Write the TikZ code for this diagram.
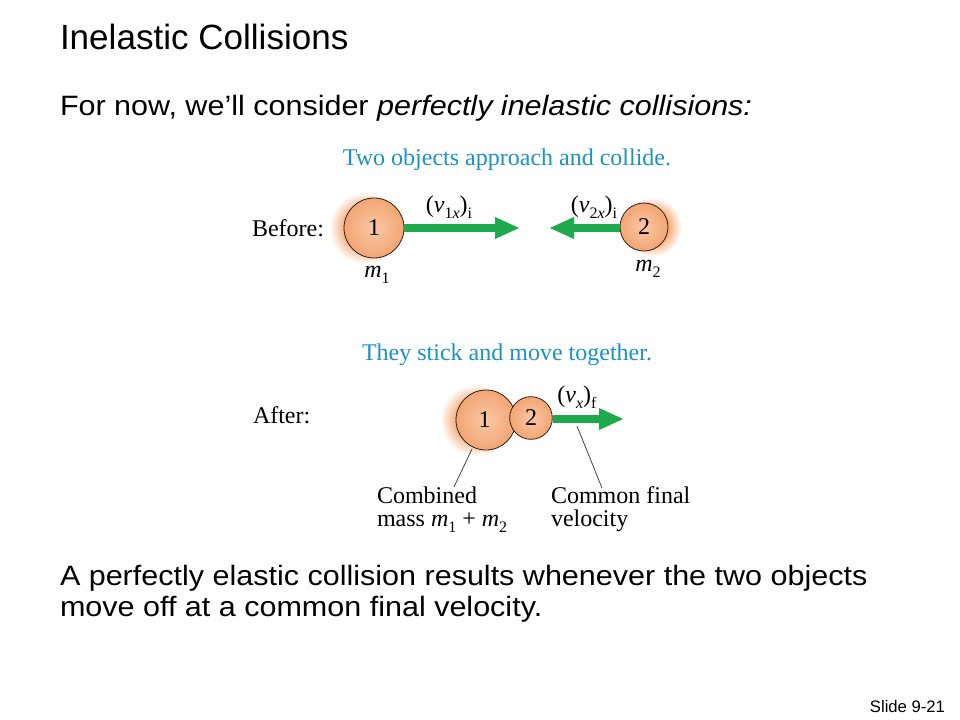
\documentclass[tikz,border=0pt]{standalone}
\usepackage{fontspec}
\setmainfont{Liberation Serif}
\newfontfamily\titlefont{Liberation Sans}
\newfontfamily\bodyfont[FakeStretch=1.09]{Liberation Sans}
\newfontfamily\diafont{Liberation Serif}
\usetikzlibrary{arrows.meta}
\definecolor{capblue}{RGB}{28,146,196}
\definecolor{arrgreen}{RGB}{30,170,76}
\definecolor{ballin}{RGB}{251,200,165}
\definecolor{ballout}{RGB}{242,165,115}
\definecolor{glowc}{RGB}{245,175,125}
\definecolor{ptrgray}{RGB}{70,70,70}
\definecolor{balledge}{RGB}{50,30,20}
\pgfdeclareradialshading{glowsh}{\pgfpoint{0bp}{0bp}}{color(0bp)=(glowc); color(14bp)=(glowc); color(25bp)=(white); color(50bp)=(white)}
\newcommand\lsub[1]{\raisebox{-4.5pt}{\fontsize{12}{12}\selectfont #1}}
\begin{document}
\begin{tikzpicture}[x=0.75pt,y=-0.75pt,
  txt/.style={inner sep=0pt, outer sep=0pt},
  ttl/.style={txt, anchor=base west, font=\titlefont\fontsize{26.3}{30}\selectfont},
  body/.style={txt, anchor=base west, font=\bodyfont\fontsize{21}{25}\selectfont},
  dia/.style={txt, font=\diafont\fontsize{18}{20}\selectfont},
  captxt/.style={dia, anchor=base, text=capblue},
  ball/.style={circle, draw=balledge, line width=0.6pt, inner sep=0pt, inner color=ballin, outer color=ballout, font=\diafont\fontsize{18}{20}\selectfont},
  garrow/.style={draw=arrgreen, line width=6pt, -{Triangle[length=18.75pt,width=15pt]}, color=arrgreen},
  ptr/.style={draw=ptrgray, line width=0.6pt}
]
\useasboundingbox (0,0) rectangle (960,720);
\fill[white] (0,0) rectangle (960,720);

% slide texts
\node[ttl] (title) at (60,50) {Inelastic Collisions};
\node[body] (intro) at (60,116) {For now, we’ll consider \textit{perfectly inelastic collisions:}};
\node[body] (con1) at (60,585) {A perfectly elastic collision results whenever the two objects};
\node[body] (con2) at (60,616) {move off at a common final velocity.};
\node[txt, anchor=base east, font=\titlefont\fontsize{12.5}{14}\selectfont] (slide) at (945,712) {Slide 9-21};

% Before
\node[captxt] (cap1) at (507,166) {Two objects approach and collide.};
\node[dia, anchor=base west] (before) at (252,237) {Before:};
\shade[shading=glowsh] (365,228) circle [radius=27pt];
\shade[shading=glowsh] (652,227) circle [radius=22.5pt];
\node[ball, minimum size=45pt] (b1) at (374,228) {1};
\node[ball, minimum size=36pt] (b2) at (644,227) {2};
\coordinate (tip1) at (520,228);
\coordinate (tip2) at (549,228);
\draw[garrow] (b1.east) -- (tip1);
\draw[garrow] (b2.west |- tip2) -- (tip2);
\node[dia, anchor=base] (v1) at (449,213) {(\textit{v}\lsub{1\textit{x}})\lsub{i}};
\node[dia, anchor=base] (v2) at (594,213) {(\textit{v}\lsub{2\textit{x}})\lsub{i}};
\node[dia, anchor=base] (m1) at (377,278) {\textit{m}\lsub{1}};
\node[dia, anchor=base] (m2) at (648,272) {\textit{m}\lsub{2}};

% After
\node[captxt] (cap2) at (507,360) {They stick and move together.};
\node[dia, anchor=base west] (after) at (253,423) {After:};
\shade[shading=glowsh] (476,420) circle [radius=27pt];
\node[ball, minimum size=45pt] (a1) at (486,420) {\hspace*{-2pt}1};
\node[ball, minimum size=32pt] (a2) at (531,418) {2};
\coordinate (tip3) at (624,419);
\draw[garrow] (a2.east |- tip3) -- (tip3);
\node[dia, anchor=base] (vf) at (577,402) {(\textit{v}\lsub{\textit{x}})\lsub{f}};

\coordinate (p1a) at (472,449);
\coordinate (p1b) at (454,487);
\coordinate (p2a) at (577,426);
\coordinate (p2b) at (602,488);
\draw[ptr] (p1a) -- (p1b);
\draw[ptr] (p2a) -- (p2b);
\node[dia, anchor=base west] (comb1) at (377,503) {Combined};
\node[dia, anchor=base west] (comb2) at (377,526) {mass \textit{m}\lsub{1} + \textit{m}\lsub{2}};
\node[dia, anchor=base west] (com1) at (551,503) {Common final};
\node[dia, anchor=base west] (com2) at (551,526) {velocity};
\end{tikzpicture}
\end{document}
